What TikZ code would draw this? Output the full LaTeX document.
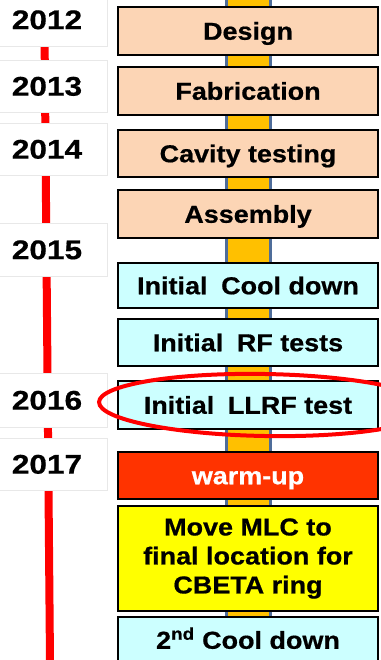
\documentclass[tikz,border=0pt]{standalone}
\usepackage{fontspec}
\setmainfont{Liberation Sans}
\newfontfamily\labelfont{Liberation Sans}[FakeStretch=1.1, FakeBold=0.6]
\newfontfamily\yearfont{Liberation Sans}[FakeStretch=1.17, FakeBold=0.6]

\definecolor{peach}{HTML}{FCD5B5}
\definecolor{icecyan}{HTML}{CCFFFF}
\definecolor{warmred}{HTML}{FF3300}
\definecolor{brightyellow}{HTML}{FFFF00}
\definecolor{barfill}{HTML}{FFC000}
\definecolor{baredge}{HTML}{4F6D9A}

\tikzset{
  stagebase/.style={draw=black, line width=2pt, minimum width=260pt, inner sep=0pt,
    font=\labelfont\bfseries\fontsize{24.5}{29}\selectfont},
  stage/.style={stagebase, text height=17.5pt, text depth=0pt},
  yearbox/.style={draw=black!9, line width=0.8pt, fill=white, minimum width=120pt,
    inner sep=0pt, text height=19.3pt, text depth=0pt,
    font=\yearfont\bfseries\fontsize{27}{30}\selectfont},
}

\begin{document}
\begin{tikzpicture}[x=1pt, y=-1pt]
  \useasboundingbox (0,0) rectangle (380,660);
  \fill[white] (0,0) rectangle (380,660);

  % vertical progress bar behind the stages
  \draw[baredge, line width=3pt, fill=barfill] (226.5,-5) rectangle (270.5,665);

  % red year axis
  \coordinate (axistop) at (44.5,30);
  \coordinate (axisbot) at (50,662);
  \draw[red, line width=8pt] (axistop) -- (axisbot);

  % years
  \node[yearbox, minimum height=53pt] (y2012) at (47,19.5) {2012};
  \node[yearbox, minimum height=52pt] (y2013) at (47,86)   {2013};
  \node[yearbox, minimum height=52pt] (y2014) at (47,149)  {2014};
  \node[yearbox, minimum height=53pt] (y2015) at (47,249.5){2015};
  \node[yearbox, minimum height=54pt] (y2016) at (47,400)  {2016};
  \node[yearbox, minimum height=52pt] (y2017) at (47,464)  {2017};

  % stages
  \node[stage, fill=peach, minimum height=48pt] (design) at (248,31)    {Design};
  \node[stage, fill=peach, minimum height=48pt] (fab)    at (248,91)    {Fabrication};
  \node[stage, fill=peach, minimum height=47pt] (cavity) at (248,153.5) {Cavity testing};
  \node[stage, fill=peach, minimum height=48pt] (assy)   at (248,214)   {Assembly};
  \node[stage, fill=icecyan, minimum height=45pt] (cool1) at (248,285.5) {Initial\hspace{0.25em} Cool down};
  \node[stage, fill=icecyan, minimum height=47pt] (rf)    at (248,342.5) {Initial\hspace{0.25em} RF tests};
  \node[stage, fill=icecyan, minimum height=48pt] (llrf)  at (248,405)   {Initial\hspace{0.25em} LLRF test};
  \node[stage, fill=warmred, text=white, minimum height=47pt] (warm) at (248,475.5) {warm-up};
  \node[stagebase, fill=brightyellow, minimum height=105pt, align=center] (move) at (248,558.5)
    {Move MLC to\\final location for\\CBETA ring};
  \node[stage, fill=icecyan, minimum height=46pt] (cool2) at (248,640) {2\textsuperscript{nd} Cool down};

  % highlight around the LLRF test
  \draw[red, line width=4pt, rotate around={-1:(265,405)}] (265,405) ellipse [x radius=166, y radius=31];
\end{tikzpicture}
\end{document}
